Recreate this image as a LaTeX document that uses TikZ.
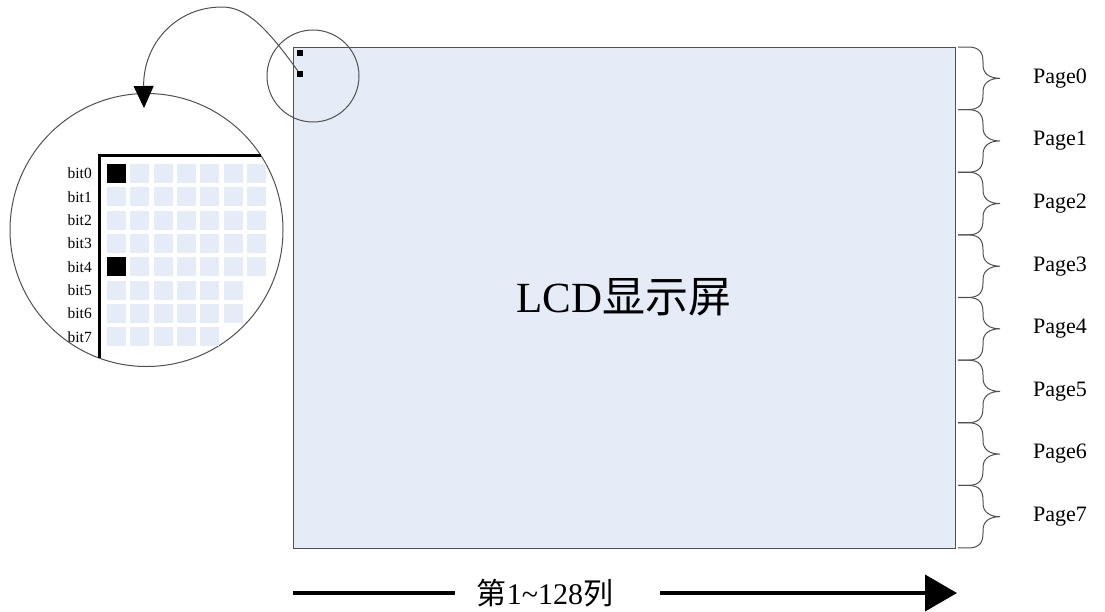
\documentclass[tikz,border=0pt]{standalone}
\usepackage{fontspec}
\setmainfont{Liberation Serif}
\newfontfamily\cjk{Noto Sans CJK SC}
\usetikzlibrary{arrows.meta}
\definecolor{lcdblue}{RGB}{230,236,247}
\definecolor{edgegray}{RGB}{80,80,80}
\tikzset{
  pagelabel/.style={anchor=west, inner sep=0pt, font=\fontsize{22}{24}\selectfont},
  bitlabel/.style={anchor=east, inner sep=0pt, font=\fontsize{15.5}{16}\selectfont},
  lens/.style={circle, draw=edgegray, line width=1pt, inner sep=0pt},
  pixel/.style={fill=black, minimum size=6pt, inner sep=0pt}
}
\begin{document}
\begin{tikzpicture}[x=1pt, y=-1pt]
\useasboundingbox (0,0) rectangle (1105,611);
% screen
\node[draw=edgegray, fill=lcdblue, line width=1pt, minimum width=662pt, minimum height=501pt, inner sep=0pt,
  font=\fontsize{43}{46}\selectfont] (lcd) at (624,297.5) {LCD{\cjk 显示屏}};
% pages
\foreach \i in {0,...,7} {
  \pgfmathsetmacro\ya{47+62.625*\i}
  \begin{scope}[shift={(0,\ya)}]
    \draw[edgegray, line width=1pt] (958,0) -- (968,0) .. controls (980,0) and (983,6) .. (983,15) -- (983,18)
      .. controls (983,27) and (990,31.3) .. (1000,31.3) .. controls (990,31.3) and (983,35.6) .. (983,44.6)
      -- (983,47.6) .. controls (983,56.6) and (980,62.6) .. (968,62.6) -- (958,62.6);
    \node[pagelabel] (page\i) at (1033,31.3) {Page\i};
  \end{scope}
}
% magnified corner
\node[pixel] (d0) at (300,53) {};
\node[pixel] (d4) at (300,74) {};
\node[lens, minimum size=92pt] (lens) at (313,76) {};
\node[lens, minimum size=273pt] (zoom) at (146.5,230) {};
\coordinate (tip) at (144,108);
\draw[edgegray, line width=1pt, -{Triangle[width=20pt,length=22pt,color=black]}] (d4) .. controls (265,25) and (245,7) .. (222,7)
  .. controls (175,7) and (143,45) .. (tip);
% bits
\foreach \r/\n in {0/6,1/6,2/6,3/6,4/6,5/5,6/5,7/4} {
  \foreach \c in {0,...,\n}
    \fill[lcdblue] (107+23.33*\c,164+23.33*\r) rectangle +(19,19);
  \node[bitlabel] (bit\r) at (92,173.5+23.33*\r) {bit\r};
}
\fill (107,164) rectangle +(19,19);
\fill (107,257.3) rectangle +(19,19);
\draw[line width=3pt] (99,358) -- (99,155) -- (261,155);
% columns
\node[font=\fontsize{30}{32}\selectfont, inner sep=0pt] (cols) at (545,593) {{\cjk 第}1\textasciitilde128{\cjk 列}};
\coordinate (a0) at (293,593);
\coordinate (a1) at (455,593);
\coordinate (a2) at (660,593);
\coordinate (a3) at (957,593);
\draw[line width=4pt] (a0) -- (a1);
\draw[line width=4pt, -{Triangle[width=36pt,length=32pt]}] (a2) -- (a3);
\end{tikzpicture}
\end{document}
